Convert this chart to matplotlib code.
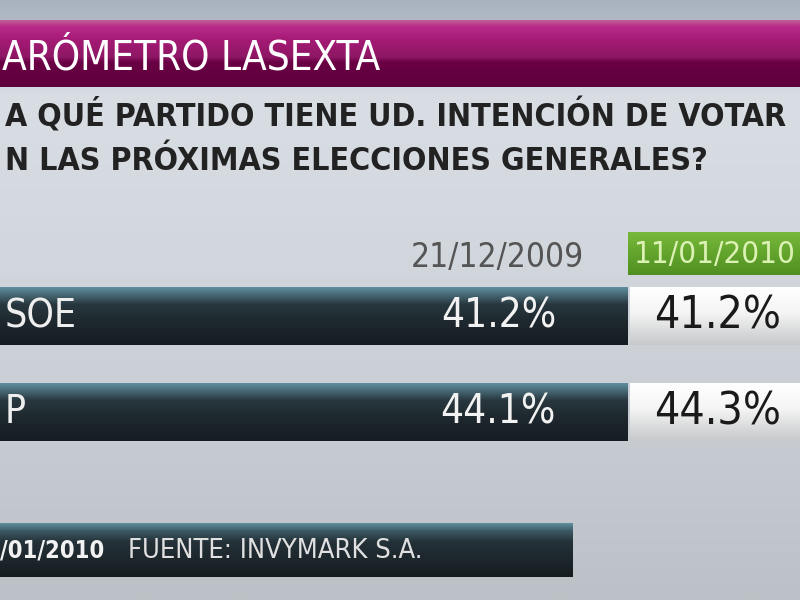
import numpy as np
import matplotlib
matplotlib.use("Agg")
import matplotlib.pyplot as plt
from matplotlib.colors import LinearSegmentedColormap

# datos visibles en la captura
titulo = "ARÓMETRO LASEXTA"
pregunta = ["A QUÉ PARTIDO TIENE UD. INTENCIÓN DE VOTAR",
            "N LAS PRÓXIMAS ELECCIONES GENERALES?"]
partidos = ["SOE", "P"]
fechas = ["21/12/2009", "11/01/2010"]
valores_antes = [41.2, 44.1]
valores_ahora = [41.2, 44.3]
pie_fecha = "/01/2010"
pie_fuente = "FUENTE: INVYMARK S.A."

FONT = dict(family="DejaVu Sans", fontstretch="condensed")


def degradado(ax, x0, x1, y0, y1, colores, clip=None, z=1):
    cmap = LinearSegmentedColormap.from_list("g", colores)
    g = np.linspace(0, 1, 256).reshape(-1, 1)
    im = ax.imshow(g, cmap=cmap, extent=(x0, x1, y1, y0), origin="upper",
                   aspect="auto", zorder=z, interpolation="bilinear")
    if clip is not None:
        im.set_clip_path(clip)
    return im


fig = plt.figure(figsize=(8, 6), dpi=100)
ax = fig.add_axes([0, 0, 1, 1])

# fondo
degradado(ax, 0, 800, 0, 600,
          [(0, "#a8b3bf"), (0.04, "#b3bbc6"), (0.16, "#d9dde4"),
           (0.5, "#d0d4db"), (1, "#bcc1c7")], z=0)

# franja del titulo
degradado(ax, 0, 800, 20, 87,
          [(0, "#c0609a"), (0.1, "#b92a8a"), (0.3, "#a41a74"),
           (0.55, "#8e1765"), (0.63, "#6a0044"), (1, "#5e003c")], z=1)
ax.text(2, 58, titulo, color="white", fontsize=29, va="center", ha="left",
        zorder=3, **FONT)

# pregunta
ax.text(5, 116, pregunta[0], color="#222222", fontsize=23, fontweight="bold",
        va="center", ha="left", **FONT)
ax.text(5, 161, pregunta[1], color="#222222", fontsize=23, fontweight="bold",
        va="center", ha="left", **FONT)

# cabeceras de fecha
ax.text(497, 258, fechas[0], color="#555555", fontsize=24, va="center",
        ha="center", **FONT)
degradado(ax, 628, 800, 232, 275,
          [(0, "#78b83c"), (0.5, "#62a52c"), (1, "#4f8f22")], z=1)
ax.text(634, 254, fechas[1], color="#dcf2b4", fontsize=22.5, va="center",
        ha="left", zorder=3, **FONT)

# filas: barra oscura + caja blanca
filas_y = [316, 412]
alto = 58
barras = ax.barh(filas_y, 628, height=alto, left=0, color="#1f2a30", zorder=1)
cajas = ax.barh(filas_y, 170, height=alto, left=630, color="#f0f0f0", zorder=1)
for yc, b, c, p, va, vn in zip(filas_y, barras, cajas, partidos,
                               valores_antes, valores_ahora):
    y0, y1 = yc - alto / 2, yc + alto / 2
    degradado(ax, 0, 628, y0, y1,
              [(0, "#5f8f9e"), (0.15, "#44636f"), (0.3, "#28373e"),
               (0.6, "#1e282e"), (1, "#161d22")], clip=b, z=2)
    degradado(ax, 630, 800, y0, y1,
              [(0, "#ffffff"), (0.45, "#f4f4f4"), (1, "#c6c8ca")], clip=c, z=2)
    ax.text(5, yc, p, color="#eeeeee", fontsize=28, va="center", ha="left",
            zorder=3, **FONT)
    ax.text(556, yc, f"{va:.1f}%", color="#f2f2f2", fontsize=29,
            va="center", ha="right", zorder=3, **FONT)
    ax.text(781, yc, f"{vn:.1f}%", color="#1a1a1a", fontsize=32,
            va="center", ha="right", zorder=3, **FONT)

# pie
pie = ax.barh([550], 573, height=54, left=0, color="#1f2a30", zorder=1)
degradado(ax, 0, 573, 523, 577,
          [(0, "#5f8f9e"), (0.15, "#3c5863"), (0.35, "#243138"),
           (1, "#151c20")], clip=pie[0], z=2)
ax.text(0, 551, pie_fecha, color="#f2f2f2", fontsize=17, fontweight="bold",
        va="center", ha="left", zorder=3, **FONT)
ax.text(128, 551, pie_fuente, color="#e0e0e0", fontsize=19.5,
        va="center", ha="left", zorder=3, **FONT)

ax.set_xlim(0, 800)
ax.set_ylim(600, 0)
ax.axis("off")
fig.savefig("out.png", dpi=100)
